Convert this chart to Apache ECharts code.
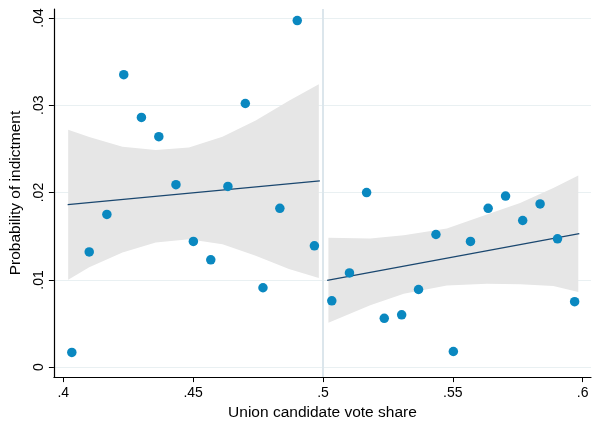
<!DOCTYPE html>
<html>
<head>
<meta charset="utf-8">
<script src="https://cdn.jsdelivr.net/npm/echarts@6/dist/echarts.min.js"></script>
<style>
  html, body { margin: 0; padding: 0; background: #fff; }
  #main { width: 592px; height: 426px; }
</style>
</head>
<body>
<div id="main"></div>
<script>
// tick labels
var xTicks = [0.4, 0.45, 0.5, 0.55, 0.6];
var yTicks = [0, 0.01, 0.02, 0.03, 0.04];

// binned scatter, left of the cutoff
var leftX = [0.4033, 0.4100, 0.4168, 0.4233, 0.4301, 0.4368, 0.4434, 0.4501, 0.4568, 0.4634, 0.4701, 0.4769, 0.4834, 0.4901, 0.4967];
var leftY = [0.0017, 0.0132, 0.0175, 0.0335, 0.0286, 0.0264, 0.0209, 0.0144, 0.0123, 0.0207, 0.0302, 0.0091, 0.0182, 0.0397, 0.0139];

// binned scatter, right of the cutoff
var rightX = [0.5034, 0.5102, 0.5168, 0.5236, 0.5303, 0.5368, 0.5435, 0.5502, 0.5568, 0.5636, 0.5703, 0.5769, 0.5836, 0.5903, 0.5969];
var rightY = [0.0076, 0.0108, 0.0200, 0.0056, 0.0060, 0.0089, 0.0152, 0.0018, 0.0144, 0.0182, 0.0196, 0.0168, 0.0187, 0.0147, 0.0075];

// linear fits
var leftFitX = [0.4017, 0.4988];
var leftFitY = [0.01862, 0.02134];
var rightFitX = [0.5016, 0.5987];
var rightFitY = [0.00994, 0.0153];

// 95% CI bands
var leftBandX = [0.4019, 0.4100, 0.4228, 0.4356, 0.4484, 0.4613, 0.4741, 0.4869, 0.4984];
var leftBandLo = [0.01001, 0.01144, 0.01314, 0.01428, 0.01465, 0.01408, 0.01277, 0.01125, 0.01023];
var leftBandHi = [0.0272, 0.02637, 0.02524, 0.02487, 0.02516, 0.0264, 0.02825, 0.03052, 0.03241];
var rightBandX = [0.5021, 0.5182, 0.5311, 0.5477, 0.5631, 0.5759, 0.5887, 0.5983];
var rightBandLo = [0.0051, 0.0071, 0.00842, 0.00937, 0.00955, 0.0095, 0.0093, 0.00861];
var rightBandHi = [0.01484, 0.01473, 0.0151, 0.0159, 0.01748, 0.01881, 0.02051, 0.02195];

var cutoff = 0.5;

function pairs(xs, ys) {
    var out = [];
    for (var i = 0; i < xs.length; i++) out.push([xs[i], ys[i]]);
    return out;
}
function stripZero(v) {
    return String(v).replace(/^0\./, '.');
}

var font = 'Liberation Sans, Arial, sans-serif';
var gridColor = '#e9f0f2';
var bandColor = '#e6e6e6';
var dotColor = '#0a88c0';
var fitColor = '#1a476f';

//置信区间带: one polygon drawn through the axes
function band(xs, lo, hi) {
    var rows = [];
    for (var i = 0; i < xs.length; i++) rows.push([xs[i], lo[i], hi[i]]);
    return {
        type: 'custom',
        data: rows,
        encode: { x: 0, y: [1, 2] },
        silent: true,
        z: 1,
        renderItem: function (params, api) {
            if (params.dataIndex !== 0) return null;
            var top = [], bottom = [];
            for (var k = 0; k < rows.length; k++) {
                top.push(api.coord([rows[k][0], rows[k][2]]));
                bottom.unshift(api.coord([rows[k][0], rows[k][1]]));
            }
            return {
                type: 'polygon',
                shape: { points: top.concat(bottom) },
                style: { fill: bandColor }
            };
        }
    };
}

var chart = echarts.init(document.getElementById('main'));
var leftBand = band(leftBandX, leftBandLo, leftBandHi);
leftBand.markLine = {
    silent: true,
    symbol: ['none', 'none'],
    label: { show: false },
    lineStyle: { color: '#dce6ec', width: 2, type: 'solid' },
    data: [{ xAxis: cutoff }]
};

chart.setOption({
    animation: false,
    backgroundColor: '#fff',
    textStyle: { fontFamily: font },
    grid: { left: 53, right: 1, top: 9, bottom: 45 },
    xAxis: {
        type: 'value',
        min: 0.3964,
        max: 0.6032,
        name: 'Union candidate vote share',
        nameLocation: 'middle',
        nameGap: 24,
        nameTextStyle: { color: '#000', fontSize: 15.5, fontFamily: font },
        axisLine: { show: true, onZero: false, lineStyle: { color: '#000', width: 1.2 } },
        axisTick: { show: true, length: 5, lineStyle: { color: '#000' }, customValues: xTicks },
        axisLabel: {
            color: '#000', fontSize: 14, margin: 9, fontFamily: font,
            customValues: xTicks, formatter: stripZero
        },
        splitLine: { show: false }
    },
    yAxis: {
        type: 'value',
        min: -0.00113,
        max: 0.04102,
        name: 'Probability of indictment',
        nameLocation: 'middle',
        nameGap: 29,
        nameRotate: 90,
        nameTextStyle: { color: '#000', fontSize: 15.5, fontFamily: font },
        axisLine: { show: true, onZero: false, lineStyle: { color: '#000', width: 1.2 } },
        axisTick: { show: true, length: 5, lineStyle: { color: '#000' }, customValues: yTicks },
        axisLabel: {
            color: '#000', fontSize: 14, margin: 8, rotate: 90, fontFamily: font,
            customValues: yTicks, formatter: stripZero
        },
        splitLine: { show: true, lineStyle: { color: gridColor, width: 1.2 } }
    },
    series: [
        leftBand,
        band(rightBandX, rightBandLo, rightBandHi),
        {
            type: 'line', data: pairs(leftFitX, leftFitY), symbol: 'none',
            lineStyle: { color: fitColor, width: 1.2 }, z: 3
        },
        {
            type: 'line', data: pairs(rightFitX, rightFitY), symbol: 'none',
            lineStyle: { color: fitColor, width: 1.2 }, z: 3
        },
        {
            type: 'scatter', data: pairs(leftX, leftY), symbolSize: 9.5,
            itemStyle: { color: dotColor, opacity: 1 }, z: 4
        },
        {
            type: 'scatter', data: pairs(rightX, rightY), symbolSize: 9.5,
            itemStyle: { color: dotColor, opacity: 1 }, z: 4
        }
    ]
});
</script>
</body>
</html>
